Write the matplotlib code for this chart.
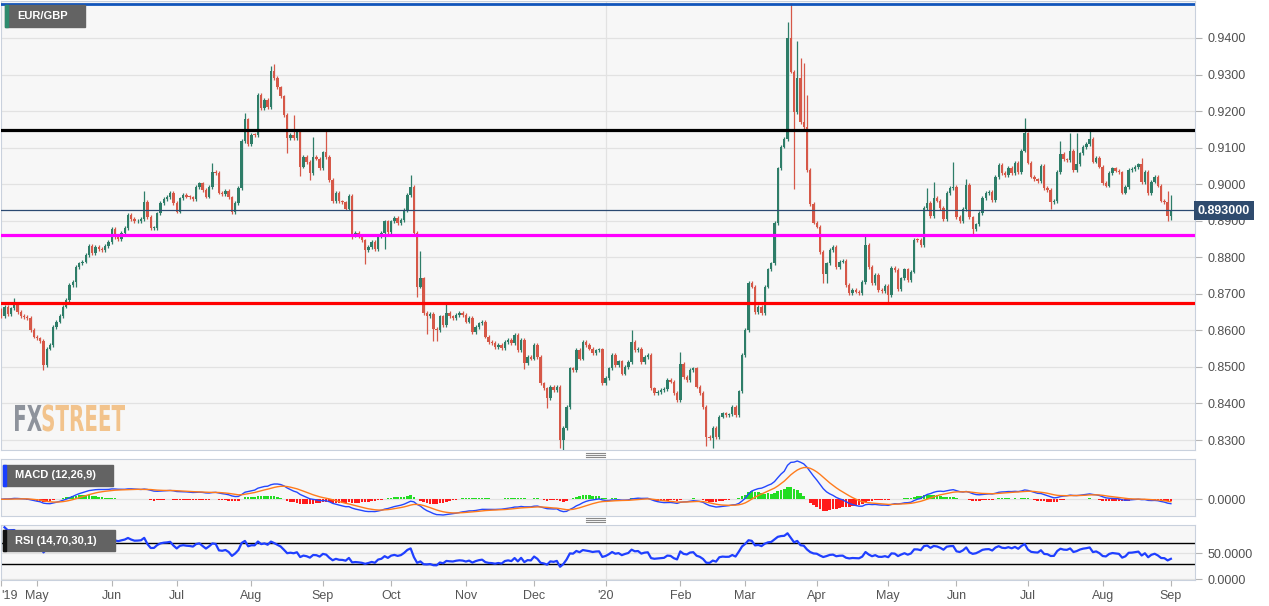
import numpy as np
import pandas as pd
import matplotlib
matplotlib.use("Agg")
import matplotlib.pyplot as plt
from matplotlib.patches import Rectangle, PathPatch
from matplotlib.lines import Line2D
from matplotlib.textpath import TextPath
from matplotlib.font_manager import FontProperties
from matplotlib.transforms import Affine2D

plt.rcParams["font.family"] = ["Liberation Sans", "DejaVu Sans"]

W, H = 1269, 606

# EUR/GBP daily closes, business days from 16 Apr 2019 to 1 Sep 2020
closes = [
    0.8640, 0.8665, 0.8645, 0.8660, 0.8674, 0.8650, 0.8640, 0.8637, 0.8633, 0.8601,
    0.8583, 0.8578, 0.8571, 0.8505, 0.8550, 0.8560, 0.8610, 0.8624, 0.8640, 0.8665,
    0.8683, 0.8724, 0.8733, 0.8774, 0.8783, 0.8788, 0.8806, 0.8830, 0.8812, 0.8828,
    0.8823, 0.8820, 0.8830, 0.8842, 0.8878, 0.8855, 0.8850, 0.8866, 0.8880, 0.8915,
    0.8905, 0.8898, 0.8900, 0.8905, 0.8952, 0.8911, 0.8879, 0.8880, 0.8920, 0.8948,
    0.8960, 0.8965, 0.8975, 0.8948, 0.8925, 0.8961, 0.8970, 0.8966, 0.8964, 0.8960,
    0.8993, 0.9002, 0.8984, 0.8966, 0.8993, 0.9034, 0.9030, 0.8977, 0.8973, 0.8982,
    0.8964, 0.8923, 0.8948, 0.8989, 0.9119, 0.9177, 0.9110, 0.9135, 0.9134, 0.9244,
    0.9208, 0.9230, 0.9212, 0.9311, 0.9290, 0.9265, 0.9240, 0.9189, 0.9125, 0.9135,
    0.9125, 0.9143, 0.9048, 0.9074, 0.9060, 0.9030, 0.9074, 0.9070, 0.9043, 0.9087,
    0.9074, 0.9011, 0.8954, 0.8975, 0.8953, 0.8950, 0.8933, 0.8969, 0.8861, 0.8866,
    0.8858, 0.8846, 0.8820, 0.8829, 0.8841, 0.8823, 0.8858, 0.8867, 0.8898, 0.8870,
    0.8898, 0.8907, 0.8893, 0.8902, 0.8929, 0.8970, 0.8993, 0.8866, 0.8720, 0.8742,
    0.8647, 0.8640, 0.8645, 0.8605, 0.8601, 0.8638, 0.8615, 0.8647, 0.8638, 0.8633,
    0.8642, 0.8647, 0.8642, 0.8624, 0.8633, 0.8596, 0.8610, 0.8619, 0.8624, 0.8583,
    0.8569, 0.8565, 0.8555, 0.8560, 0.8551, 0.8569, 0.8574, 0.8565, 0.8587, 0.8545,
    0.8574, 0.8510, 0.8528, 0.8523, 0.8560, 0.8528, 0.8455, 0.8441, 0.8414, 0.8446,
    0.8437, 0.8446, 0.8300, 0.8332, 0.8391, 0.8496, 0.8491, 0.8546, 0.8523, 0.8569,
    0.8560, 0.8550, 0.8537, 0.8545, 0.8548, 0.8455, 0.8469, 0.8496, 0.8533, 0.8505,
    0.8515, 0.8482, 0.8500, 0.8514, 0.8569, 0.8546, 0.8550, 0.8514, 0.8528, 0.8533,
    0.8441, 0.8428, 0.8432, 0.8437, 0.8439, 0.8464, 0.8460, 0.8428, 0.8409, 0.8509,
    0.8473, 0.8464, 0.8491, 0.8496, 0.8446, 0.8428, 0.8391, 0.8309, 0.8305, 0.8332,
    0.8309, 0.8364, 0.8373, 0.8369, 0.8370, 0.8391, 0.8369, 0.8433, 0.8533, 0.8601,
    0.8729, 0.8720, 0.8651, 0.8665, 0.8647, 0.8720, 0.8767, 0.8783, 0.8893, 0.9043,
    0.9103, 0.9123, 0.9400, 0.9308, 0.9198, 0.9290, 0.9171, 0.9157, 0.9039, 0.8946,
    0.8895, 0.8884, 0.8815, 0.8754, 0.8783, 0.8820, 0.8829, 0.8774, 0.8788, 0.8790,
    0.8724, 0.8701, 0.8710, 0.8706, 0.8701, 0.8733, 0.8833, 0.8774, 0.8729, 0.8752,
    0.8710, 0.8708, 0.8721, 0.8697, 0.8770, 0.8765, 0.8712, 0.8742, 0.8767, 0.8738,
    0.8761, 0.8848, 0.8847, 0.8834, 0.8934, 0.8949, 0.8913, 0.8962, 0.8955, 0.8935,
    0.8905, 0.8975, 0.8989, 0.8993, 0.8911, 0.8898, 0.8932, 0.8998, 0.8909, 0.8878,
    0.8890, 0.8922, 0.8962, 0.8975, 0.8978, 0.8957, 0.9019, 0.9053, 0.9030, 0.9025,
    0.9045, 0.9030, 0.9058, 0.9034, 0.9092, 0.9139, 0.9059, 0.9021, 0.9013, 0.9009,
    0.9051, 0.8989, 0.8984, 0.8952, 0.8954, 0.9034, 0.9082, 0.9068, 0.9065, 0.9092,
    0.9039, 0.9055, 0.9084, 0.9101, 0.9110, 0.9123, 0.9062, 0.9073, 0.9048, 0.9003,
    0.8996, 0.9030, 0.9043, 0.9037, 0.9032, 0.8977, 0.8993, 0.9039, 0.9041, 0.9047,
    0.9054, 0.9006, 0.9034, 0.8975, 0.9007, 0.9021, 0.8996, 0.8955, 0.8952, 0.8912,
    0.8930,
]
first_open = 0.8655

# long wicks that stand out (candle index -> price)
wick_highs = {4: 0.8683, 44: 0.8975, 65: 0.9052, 75: 0.9191, 83: 0.9318, 84: 0.9323,
              90: 0.9183, 96: 0.9123, 100: 0.9144, 126: 0.9019, 129: 0.8811, 137: 0.8670,
              194: 0.8596, 209: 0.8537, 242: 0.9440, 243: 0.9490, 245: 0.9387, 246: 0.9340,
              247: 0.9326, 248: 0.9239, 266: 0.8856, 285: 0.8984, 287: 0.9000, 293: 0.9055,
              297: 0.9010, 315: 0.9176, 326: 0.9112, 329: 0.9135, 331: 0.9136, 335: 0.9145,
              351: 0.9068, 359: 0.8975, 360: 0.8966}
wick_lows = {13: 0.8496, 23: 0.8724, 88: 0.9089, 92: 0.9028, 95: 0.9016, 108: 0.8855,
             112: 0.8786, 118: 0.8829, 128: 0.8697, 131: 0.8596, 133: 0.8576, 134: 0.8576,
             161: 0.8500, 168: 0.8393, 172: 0.8282, 173: 0.8277, 217: 0.8290, 219: 0.8284,
             244: 0.8993, 253: 0.8734, 254: 0.8734, 273: 0.8678, 299: 0.8866, 323: 0.8937,
             359: 0.8905, 360: 0.8907}

# drawn levels
top_level = 0.9494
resist_level = 0.9147
pivot_level = 0.8860
support_level = 0.8674
last_price = 0.8930

price_ticks = [0.83, 0.84, 0.85, 0.86, 0.87, 0.88, 0.89, 0.90, 0.91, 0.92, 0.93, 0.94]

UP = "#2e7d68"
DOWN = "#d65848"
PANEL = "#f7f7f7"
EDGE = "#c9d1dd"
GRID = "#e2e2e2"

c = np.array(closes)
x = np.arange(len(c))
o = np.concatenate([[first_open], c[:-1]])
hi = np.maximum(o, c)
lo = np.minimum(o, c)
for k, v in wick_highs.items():
    hi[k] = max(hi[k], v)
for k, v in wick_lows.items():
    lo[k] = min(lo[k], v)
colors = np.where(c >= o, UP, DOWN)

s = pd.Series(c)
macd = s.ewm(span=12, adjust=False).mean() - s.ewm(span=26, adjust=False).mean()
signal = macd.ewm(span=9, adjust=False).mean()
hist = macd - signal
d = s.diff()
gain = d.clip(lower=0).ewm(alpha=1 / 14, adjust=False).mean()
loss = (-d.clip(upper=0)).ewm(alpha=1 / 14, adjust=False).mean()
rsi = 100 - 100 / (1 + gain / loss)

dates = pd.bdate_range("2019-04-16", periods=len(c))
month_pos = [0] + [k for k in range(1, len(dates)) if dates[k].month != dates[k - 1].month]
month_lab = []
for k in month_pos:
    if k == 0:
        month_lab.append("'19")
    elif dates[k].month == 1:
        month_lab.append("'" + dates[k].strftime("%y"))
    else:
        month_lab.append(dates[k].strftime("%b"))
year_pos = [k for k in month_pos[1:] if dates[k].month == 1]


def rect(x0, y0, x1, y1):
    # pixel box (top-left origin) -> figure fraction
    return [x0 / W, 1 - y1 / H, (x1 - x0) / W, (y1 - y0) / H]


fig = plt.figure(figsize=(W / 100, H / 100), dpi=100)
ax = fig.add_axes(rect(1, 1, 1195, 450))
axm = fig.add_axes(rect(1, 459, 1195, 516), sharex=ax)
axr = fig.add_axes(rect(1, 525, 1195, 580), sharex=ax)

for a in (ax, axm, axr):
    a.set_facecolor(PANEL)
    for sp in a.spines.values():
        sp.set_color(EDGE)
    a.yaxis.tick_right()
    a.tick_params(axis="y", direction="out", length=5, color="#b5b5b5",
                  labelsize=9, labelcolor="#505050", pad=4)
    a.grid(axis="y", color=GRID, lw=0.9)
    a.set_axisbelow(True)
    for k in year_pos:
        a.axvline(k, color=GRID, lw=0.9, zorder=0)

ax.set_xlim((1 - 1.26) / 3.249, (1195 - 1.26) / 3.249)

# candles
ax.vlines(x, lo - 0.0005, hi + 0.0005, color=colors, lw=0.9, zorder=3)
ax.bar(x, np.maximum(np.abs(c - o), 0.00025), bottom=np.minimum(o, c),
       width=0.74, color=colors, zorder=3)

ax.axhline(top_level, color="#1155bb", lw=2, zorder=4)
ax.axhline(resist_level, color="black", lw=2.3, zorder=4)
ax.axhline(pivot_level, color="#ff00ff", lw=2.3, zorder=4)
ax.axhline(support_level, color="#ff0000", lw=2.3, zorder=4)
ax.axhline(last_price, color="#2b4a72", lw=0.9, zorder=4)
ax.set_ylim(0.82727, 0.95012)
ax.set_yticks(price_ticks)
ax.set_yticklabels([f"{v:.4f}" for v in price_ticks])

# MACD
axm.bar(x, hist, width=0.8, color=np.where(hist >= 0, "#22dd22", "#ff1a1a"), zorder=2)
axm.plot(x, macd, color="#2447ff", lw=1, zorder=3)
axm.plot(x, signal, color="#ff7b1c", lw=1, zorder=3)
top = macd.max()
axm.set_ylim(-0.436 * top, 1.052 * top)
axm.set_yticks([0])
axm.set_yticklabels(["0.0000"])

# RSI
axr.plot(x, rsi, color="#1f3fff", lw=1.6, zorder=3)
axr.axhline(70, color="black", lw=1, zorder=2)
axr.axhline(30, color="black", lw=1, zorder=2)
axr.set_ylim(-1.3, 104.4)
axr.set_yticks([0, 50])
axr.set_yticklabels(["0.0000", "50.0000"])

for a in (ax, axm):
    a.tick_params(axis="x", bottom=False, labelbottom=False)
axr.set_xticks(month_pos)
axr.set_xticklabels(month_lab)
axr.tick_params(axis="x", direction="out", length=4, color="#b5b5b5",
                labelsize=9, labelcolor="#555555", pad=3)
axr.get_xticklabels()[0].set_horizontalalignment("left")


def label_box(x0, y0, x1, y1, stripe, text):
    fig.add_artist(Rectangle(rect(x0, y0, x1, y1)[:2], (x1 - x0) / W, (y1 - y0) / H,
                             transform=fig.transFigure, color="#636363", zorder=10))
    fig.add_artist(Rectangle(rect(x0, y0, x0 + 3, y1)[:2], 3 / W, (y1 - y0) / H,
                             transform=fig.transFigure, color=stripe, zorder=11))
    fig.text((x0 + 12) / W, 1 - (y0 + y1) / 2 / H, text, color="white", fontsize=8,
             fontweight="bold", va="center", ha="left", zorder=12)


label_box(5, 5, 85, 27, "#2e8b6e", "EUR/GBP")
label_box(3, 465, 113, 486, "#1a3fff", "MACD (12,26,9)")
label_box(3, 530, 115, 551, "#111111", "RSI (14,70,30,1)")

# last price tag
fig.text(1198 / W, 1 - 210.5 / H, f"{last_price:.6f}", color="white", fontsize=9,
         fontweight="bold", va="center", ha="left", zorder=12,
         bbox=dict(boxstyle="square,pad=0.3", fc="#2f4b6e", ec="none"))

# panel resize handles
for yy in (453, 455, 457, 518, 520, 522):
    fig.add_artist(Line2D([586 / W, 605 / W], [1 - yy / H, 1 - yy / H],
                          transform=fig.transFigure, color="#8a8a8a", lw=0.8))

# FXSTREET watermark, squeezed to the narrow logo shape
fp = FontProperties(family=["Liberation Sans Narrow", "DejaVu Sans"], weight="bold")
p_fx = TextPath((0, 0), "FX", size=1, prop=fp)
p_st = TextPath((0, 0), "STREET", size=1, prop=fp)
e_fx = p_fx.get_extents()
e_st = p_st.get_extents()
gap = 0.04
total = (e_fx.x1 - e_fx.x0) + gap + (e_st.x1 - e_st.x0)
sx = 110 / total
sy = 27 / (e_st.y1 - e_st.y0)
base = H - 431
fig.add_artist(PathPatch(p_fx, transform=Affine2D().translate(-e_fx.x0, 0).scale(sx, sy)
                         .translate(15, base), color="#8e939c", lw=0, zorder=1))
off = 15 + (e_fx.x1 - e_fx.x0 + gap) * sx
fig.add_artist(PathPatch(p_st, transform=Affine2D().translate(-e_st.x0, 0).scale(sx, sy)
                         .translate(off, base), color="#f2c38c", lw=0, zorder=1))

fig.savefig("out.png", dpi=100, facecolor="white")
